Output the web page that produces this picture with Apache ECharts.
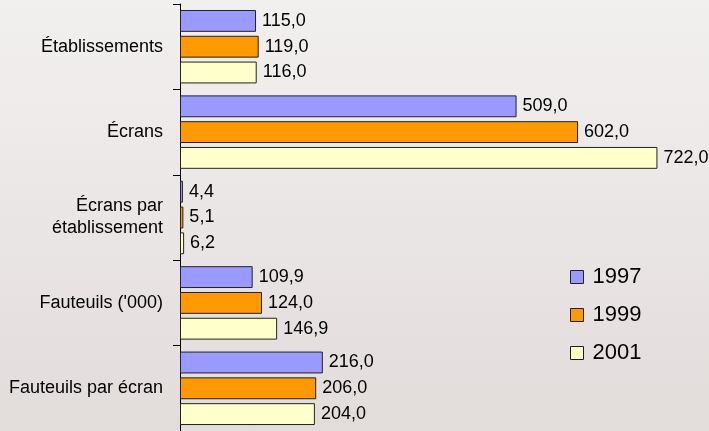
<!DOCTYPE html>
<html lang="fr">
<head>
<meta charset="UTF-8">
<title>Cinémas</title>
<script src="https://cdn.jsdelivr.net/npm/echarts@6/dist/echarts.min.js"></script>
<style>
html, body { margin: 0; padding: 0; }
#chart { width: 709px; height: 431px; background: linear-gradient(180deg, #f2f0ef 0%, #e2dcdb 100%); }
</style>
</head>
<body>
<div id="chart"></div>
<script>
const categories = ['Établissements', 'Écrans', 'Écrans par\nétablissement', "Fauteuils ('000)", 'Fauteuils par écran'];
const years = ['1997', '1999', '2001'];
const v1997 = [115.0, 509.0, 4.4, 109.9, 216.0];
const v1999 = [119.0, 602.0, 5.1, 124.0, 206.0];
const v2001 = [116.0, 722.0, 6.2, 146.9, 204.0];
const colors = ['#9999ff', '#ff9900', '#ffffcc'];

const font = 'Liberation Sans, Arial, sans-serif';

function makeSeries(name, data, color) {
return {
name: name,
type: 'bar',
data: data,
barCategoryGap: '14%',
barGap: '18%',
itemStyle: { color: color, borderColor: '#222', borderWidth: 1 },
label: {
show: true,
position: 'right',
distance: 6,
color: '#000',
fontFamily: font,
fontSize: 18,
formatter: p => p.value.toFixed(1).replace('.', ',')
}
};
}

const chart = echarts.init(document.getElementById('chart'));
chart.setOption({
animation: false,
backgroundColor: 'transparent',
grid: { left: 180, right: 0, top: 4, bottom: -3, containLabel: false },
legend: {
orient: 'vertical',
left: 565,
top: 261,
itemWidth: 13,
itemHeight: 13,
itemGap: 16,
icon: 'rect',
data: years,
itemStyle: { borderColor: '#222', borderWidth: 1 },
textStyle: { fontFamily: font, fontSize: 22, color: '#000', padding: [0, 0, 0, 4] }
},
xAxis: {
type: 'value',
min: 0,
max: 800,
show: false
},
yAxis: {
type: 'category',
inverse: true,
data: categories,
axisLine: { show: true, lineStyle: { color: '#000', width: 1 } },
axisTick: { show: true, length: 7, lineStyle: { color: '#000' } },
axisLabel: {
margin: 17,
fontFamily: font,
fontSize: 18,
lineHeight: 22,
color: '#000',
align: 'right'
},
splitLine: { show: false }
},
series: [
makeSeries(years[0], v1997, colors[0]),
makeSeries(years[1], v1999, colors[1]),
makeSeries(years[2], v2001, colors[2])
]
});
</script>
</body>
</html>
